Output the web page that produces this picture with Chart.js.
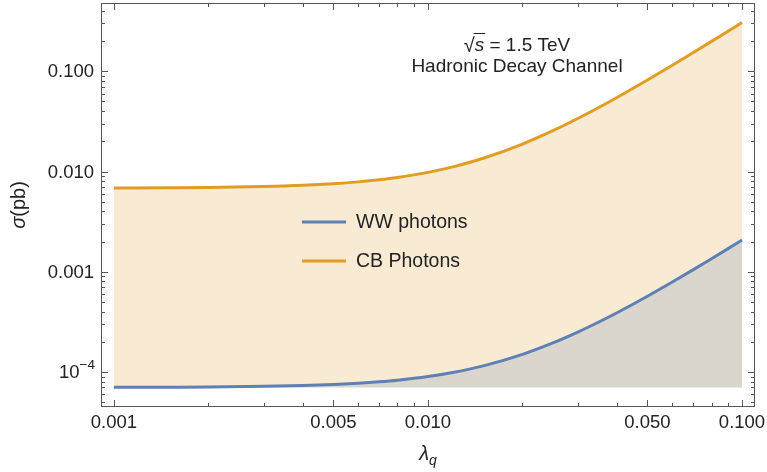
<!DOCTYPE html>
<html>
<head>
<meta charset="utf-8">
<script src="https://cdn.jsdelivr.net/npm/chart.js@4.4.1/dist/chart.umd.min.js"></script>
<style>
  html, body { margin: 0; padding: 0; background: #fff; }
  #wrap { width: 767px; height: 472px; position: relative; }
</style>
</head>
<body>
<div id="wrap"><canvas id="myChart"></canvas></div>
<script>
// values (log-log)
const lambdaQ = [0.001, 0.0015, 0.002, 0.003, 0.004, 0.005, 0.006, 0.007, 0.008, 0.01, 0.012, 0.015,
  0.02, 0.025, 0.03, 0.035, 0.04, 0.05, 0.06, 0.07, 0.08, 0.09, 0.1];
const wwPhotons = [7.02e-5, 7.05e-5, 7.08e-5, 7.18e-5, 7.32e-5, 7.5e-5, 7.72e-5, 7.98e-5, 8.28e-5, 9.0e-5, 9.88e-5, 1.15e-4,
  1.5e-4, 1.95e-4, 2.5e-4, 3.15e-4, 3.9e-4, 5.7e-4, 7.9e-4, 1.05e-3, 1.35e-3, 1.69e-3, 2.07e-3];
const cbPhotons = [0.00683, 0.00687, 0.00692, 0.00707, 0.00728, 0.00755, 0.00788, 0.00827, 0.00872, 0.0098, 0.01112, 0.01355,
  0.0188, 0.02555, 0.0338, 0.04355, 0.0548, 0.0818, 0.1148, 0.1538, 0.1988, 0.2498, 0.3068];
const fillFloor = 7.0e-5;

const xMajorTicks = [0.001, 0.005, 0.01, 0.05, 0.1];
const xTickLabels = ['0.001', '0.005', '0.010', '0.050', '0.100'];
const xMinorTicks = [0.002, 0.003, 0.004, 0.006, 0.007, 0.008, 0.009, 0.02, 0.03, 0.04, 0.06, 0.07, 0.08, 0.09];
const yMajorTicks = [1e-4, 1e-3, 0.01, 0.1];
const yTickLabels = ['10^\u22124', '0.001', '0.010', '0.100'];
const yMinorTicks = [5e-5, 6e-5, 7e-5, 8e-5, 9e-5,
  2e-4, 3e-4, 4e-4, 5e-4, 6e-4, 7e-4, 8e-4, 9e-4,
  0.002, 0.003, 0.004, 0.005, 0.006, 0.007, 0.008, 0.009,
  0.02, 0.03, 0.04, 0.05, 0.06, 0.07, 0.08, 0.09,
  0.2, 0.3, 0.4];

const blue = '#5E81B5';
const orange = '#E19C24';
const FONT = '"Liberation Sans", Arial, sans-serif';

// frame, inward ticks, labels, legend and annotation
const frameTicks = {
  id: 'frameTicks',
  afterDraw(chart) {
    const { ctx, chartArea: a, scales: { x, y } } = chart;
    ctx.save();
    ctx.strokeStyle = '#555';
    ctx.lineWidth = 1;
    ctx.strokeRect(a.left + 0.5, a.top + 0.5, a.right - a.left - 1, a.bottom - a.top - 1);

    const xTick = (v, len) => {
      const px = Math.round(x.getPixelForValue(v)) + 0.5;
      ctx.beginPath();
      ctx.moveTo(px, a.bottom); ctx.lineTo(px, a.bottom - len);
      ctx.moveTo(px, a.top); ctx.lineTo(px, a.top + len);
      ctx.stroke();
    };
    const yTick = (v, len) => {
      const py = Math.round(y.getPixelForValue(v)) + 0.5;
      ctx.beginPath();
      ctx.moveTo(a.left, py); ctx.lineTo(a.left + len, py);
      ctx.moveTo(a.right, py); ctx.lineTo(a.right - len, py);
      ctx.stroke();
    };
    xMajorTicks.forEach(v => xTick(v, 7));
    xMinorTicks.forEach(v => xTick(v, 4));
    yMajorTicks.forEach(v => yTick(v, 7));
    yMinorTicks.forEach(v => yTick(v, 4));

    ctx.fillStyle = '#222';
    ctx.font = '18.5px ' + FONT;
    ctx.textAlign = 'center';
    ctx.textBaseline = 'alphabetic';
    xMajorTicks.forEach((v, i) => {
      ctx.fillText(xTickLabels[i], x.getPixelForValue(v), a.bottom + 21);
    });

    ctx.textAlign = 'right';
    ctx.textBaseline = 'middle';
    yMajorTicks.forEach((v, i) => {
      const py = y.getPixelForValue(v);
      const lab = yTickLabels[i];
      if (lab.includes('^')) {
        const [base, exp] = lab.split('^');
        ctx.font = '13.5px ' + FONT;
        const ew = ctx.measureText(exp).width;
        ctx.fillText(exp, a.left - 6, py - 7);
        ctx.font = '18.5px ' + FONT;
        ctx.fillText(base, a.left - 6 - ew, py + 1);
      } else {
        ctx.font = '18.5px ' + FONT;
        ctx.fillText(lab, a.left - 7, py + 1);
      }
    });

    // axis titles
    ctx.save();
    ctx.translate(19, (a.top + a.bottom) / 2);
    ctx.rotate(-Math.PI / 2);
    ctx.textBaseline = 'middle';
    ctx.textAlign = 'left';
    ctx.font = 'italic 20px ' + FONT;
    const sw = ctx.measureText('\u03c3').width;
    ctx.font = '20px ' + FONT;
    const pw = ctx.measureText('(pb)').width;
    ctx.font = 'italic 20px ' + FONT;
    ctx.fillText('\u03c3', -(sw + pw) / 2, 0);
    ctx.font = '20px ' + FONT;
    ctx.fillText('(pb)', -(sw + pw) / 2 + sw, 0);
    ctx.restore();

    const cx = (a.left + a.right) / 2;
    ctx.textAlign = 'left';
    ctx.textBaseline = 'alphabetic';
    ctx.font = 'italic 20px ' + FONT;
    const lw = ctx.measureText('\u03bb').width;
    ctx.font = 'italic 14px ' + FONT;
    const qw = ctx.measureText('q').width;
    ctx.font = 'italic 20px ' + FONT;
    ctx.fillText('\u03bb', cx - (lw + qw) / 2, 460);
    ctx.font = 'italic 14px ' + FONT;
    ctx.fillText('q', cx - (lw + qw) / 2 + lw, 465);

    // annotation
    const ax = 517;
    ctx.font = '20px ' + FONT;
    const rw = ctx.measureText('\u221a').width;
    ctx.font = '19px ' + FONT;
    const rest = ' = 1.5 TeV';
    const restW = ctx.measureText(rest).width;
    ctx.font = 'italic 19px ' + FONT;
    const sW = ctx.measureText('s').width;
    let sx = ax - (rw + sW + restW) / 2;
    ctx.font = '20px ' + FONT;
    ctx.fillText('\u221a', sx, 52);
    ctx.font = 'italic 19px ' + FONT;
    ctx.fillText('s', sx + rw, 51);
    ctx.font = '19px ' + FONT;
    ctx.fillText(rest, sx + rw + sW, 51);
    ctx.beginPath();
    ctx.strokeStyle = '#222';
    ctx.moveTo(sx + rw - 1, 51 - 17.5);
    ctx.lineTo(sx + rw + sW + 1, 51 - 17.5);
    ctx.stroke();
    ctx.textAlign = 'center';
    ctx.fillText('Hadronic Decay Channel', ax, 72);

    // legend
    const items = [['WW photons', blue, 222], ['CB Photons', orange, 261]];
    ctx.textAlign = 'left';
    ctx.textBaseline = 'middle';
    items.forEach(([txt, col, ly]) => {
      ctx.strokeStyle = col;
      ctx.lineWidth = 3;
      ctx.beginPath();
      ctx.moveTo(302, ly); ctx.lineTo(346, ly);
      ctx.stroke();
      ctx.fillStyle = '#222';
      ctx.font = '19.5px ' + FONT;
      ctx.fillText(txt, 356, ly + 1);
    });
    ctx.restore();
  }
};

const ctx = document.getElementById('myChart').getContext('2d');
new Chart(ctx, {
  type: 'line',
  data: {
    datasets: [{
      label: 'WW photons',
      data: lambdaQ.map((v, i) => ({ x: v, y: wwPhotons[i] })),
      borderColor: blue,
      backgroundColor: 'rgba(94,129,181,0.2)',
      borderWidth: 3,
      pointRadius: 0,
      cubicInterpolationMode: 'monotone',
      fill: { value: fillFloor }
    }, {
      label: 'CB Photons',
      data: lambdaQ.map((v, i) => ({ x: v, y: cbPhotons[i] })),
      borderColor: orange,
      backgroundColor: 'rgba(225,156,36,0.2)',
      borderWidth: 3,
      pointRadius: 0,
      cubicInterpolationMode: 'monotone',
      fill: { value: fillFloor }
    }]
  },
  options: {
    responsive: true,
    maintainAspectRatio: false,
    animation: false,
    layout: { padding: { left: 101, right: 12, top: 3, bottom: 65 } },
    scales: {
      x: { type: 'logarithmic', min: 0.00091, max: 0.11, display: false },
      y: { type: 'logarithmic', min: 4.47e-5, max: 0.48, display: false }
    },
    plugins: { legend: { display: false }, tooltip: { enabled: false } }
  },
  plugins: [frameTicks]
});
</script>
</body>
</html>
